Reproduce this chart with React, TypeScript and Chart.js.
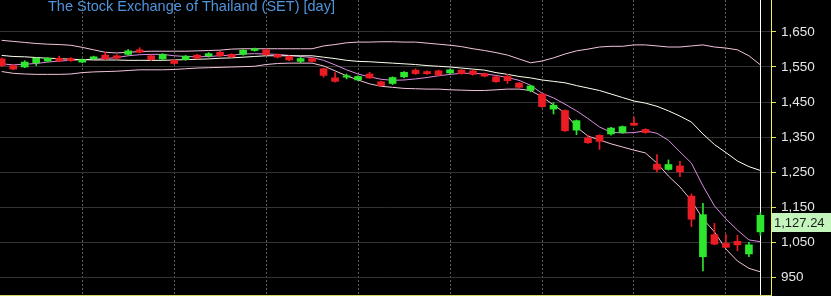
import { useEffect, useRef } from "react";
import { Chart, registerables } from "chart.js";

Chart.register(...registerables);

const titleText = "The Stock Exchange of Thailand (SET) [day]";
const lastPriceLabel = "1,127.24";

const opens = [1573,1554,1550,1562,1567,1575,1574,1564,1573,1584,1582,1586,1599,1582,1573,1569,1571,1584,1582,1592,1586,1586,1597,1599,1585,1580,1566,1574,1545,1519,1521,1513,1530,1508,1503,1522,1541,1537,1539,1533,1541,1539,1531,1522,1523,1504,1483,1473,1430,1426,1370,1348,1355,1359,1363,1390,1372,1273,1258,1268,1182,1009,1072,1047,1053,1017,1080];
const closes = [1554,1544,1564,1575,1575,1567,1568,1571,1579,1573,1575,1596,1592,1571,1586,1560,1581,1575,1588,1582,1579,1598,1602,1585,1578,1570,1574,1566,1526,1509,1525,1523,1519,1497,1520,1535,1531,1531,1527,1542,1531,1529,1524,1508,1511,1492,1496,1437,1441,1368,1397,1334,1338,1376,1380,1384,1363,1258,1272,1251,1116,1129,1045,1036,1043,1043,1127.24];
const highs = [1576,1557,1568,1576,1577,1581,1577,1573,1581,1592,1585,1600,1605,1584,1588,1571,1583,1586,1591,1595,1588,1600,1604,1602,1587,1582,1578,1576,1547,1534,1530,1525,1535,1510,1522,1537,1545,1539,1541,1544,1543,1541,1533,1524,1529,1506,1498,1475,1448,1428,1399,1355,1357,1378,1382,1407,1374,1300,1285,1281,1188,1161,1104,1072,1070,1050,1135];
const lows = [1551,1542,1548,1554,1565,1565,1566,1562,1571,1571,1573,1584,1590,1569,1570,1558,1569,1573,1578,1580,1577,1584,1595,1583,1576,1568,1562,1564,1521,1507,1516,1511,1517,1495,1500,1519,1529,1529,1525,1531,1529,1527,1522,1506,1503,1490,1479,1435,1416,1366,1357,1332,1315,1356,1361,1383,1361,1251,1256,1237,1095,969,1043,1034,1026,1009,1070];

const upperBand = [1626,1623,1620,1617,1615,1614,1612,1606,1599,1592,1590,1592,1594,1595,1595,1595,1595,1596,1597,1598,1601,1602,1602,1602,1602,1602,1602,1602,1610,1614,1619,1621,1621,1622,1622,1621,1621,1618,1615,1612,1608,1602,1597,1591,1584,1573,1562,1567,1576,1587,1596,1601,1607,1609,1609,1613,1613,1610,1607,1607,1610,1613,1607,1604,1599,1582,1556];
const middleBand = [1583,1580,1579,1577,1575,1574,1572,1571,1570,1570,1570,1569,1569,1569,1569,1570,1571,1572,1573,1575,1576,1578,1580,1582,1582,1582,1582,1582,1578,1574,1569,1566,1565,1563,1561,1559,1557,1554,1552,1550,1547,1544,1541,1534,1529,1523,1519,1513,1509,1505,1497,1490,1483,1473,1463,1453,1447,1438,1425,1410,1393,1359,1329,1306,1282,1266,1255];
const lowerBand = [1537,1532,1530,1529,1529,1529,1530,1534,1536,1537,1538,1540,1542,1542,1542,1543,1545,1547,1548,1549,1550,1551,1552,1557,1560,1561,1561,1561,1553,1539,1525,1513,1502,1495,1492,1489,1488,1487,1487,1485,1484,1483,1483,1485,1487,1487,1483,1465,1442,1419,1379,1353,1342,1331,1322,1313,1305,1276,1239,1208,1169,1117,1080,1031,997,976,966];
const shortMA = [1559,1556,1558,1560,1564,1567,1569,1571,1572,1574,1577,1582,1585,1586,1586,1582,1580,1579,1580,1582,1584,1587,1588,1587,1586,1583,1580,1577,1569,1556,1542,1530,1522,1515,1512,1513,1516,1520,1525,1529,1532,1532,1530,1526,1520,1512,1498,1475,1462,1444,1425,1403,1379,1364,1362,1363,1368,1361,1341,1308,1276,1211,1154,1117,1085,1057,1052];

const yTickValues = [950,1000,1050,1100,1150,1200,1250,1300,1350,1400,1450,1500,1550,1600,1650,1700];
const xGridIndices = [7,15,23,31,39,47,55,63];

const UP = "#2ee62e";
const DOWN = "#ec1c24";
const candleColor = (i: number) => (closes[i] >= opens[i] ? UP : DOWN);

const zeroPad = (s: any) => {
  s.paddingTop = 0;
  s.paddingBottom = 0;
  s.paddingLeft = 0;
  s.paddingRight = 0;
};

export default function App() {
  const ref = useRef<HTMLCanvasElement | null>(null);
  useEffect(() => {
    if (!ref.current) return;
    const lastIndex = closes.length - 1;
    const bgPlugin = {
      id: "bg",
      beforeDraw(chart: any) {
        const c = chart.ctx;
        c.save();
        c.fillStyle = "#000";
        c.fillRect(0, 0, chart.width, chart.height);
        c.restore();
      },
      beforeDatasetsDraw(chart: any) {
        const c = chart.ctx;
        const x = Math.round(chart.scales.x.getPixelForValue(lastIndex)) + 0.5;
        c.save();
        c.strokeStyle = "#ffffff";
        c.lineWidth = 1;
        c.beginPath();
        c.moveTo(x, chart.chartArea.top);
        c.lineTo(x, chart.chartArea.bottom);
        c.stroke();
        c.restore();
      },
      afterDraw(chart: any) {
        const c = chart.ctx;
        c.save();
        c.font = "14.5px 'Liberation Sans', Arial, sans-serif";
        c.fillStyle = "#4f95dc";
        c.textBaseline = "alphabetic";
        c.textAlign = "left";
        c.fillText(titleText, 48, 11);
        const py = chart.scales.y.getPixelForValue(closes[lastIndex]);
        const x0 = chart.chartArea.right + 1;
        c.fillStyle = "#c4f5bc";
        c.fillRect(x0, Math.round(py) - 2, chart.width - x0, 19);
        c.font = "13px 'Liberation Sans', Arial, sans-serif";
        c.fillStyle = "#1a1a1a";
        c.textBaseline = "middle";
        c.fillText(lastPriceLabel, x0 + 2, Math.round(py) + 8);
        c.restore();
      },
    };

    const line = (data: number[], color: string) => ({
      type: "line" as const,
      data: data.map((v, i) => ({ x: i, y: v })),
      borderColor: color,
      borderWidth: 1,
      pointRadius: 0,
      tension: 0,
      fill: false,
      order: 2,
    });

    const chart = new Chart(ref.current, {
      type: "bar",
      data: {
        datasets: [
          {
            type: "bar",
            data: opens.map((o, i) => ({ x: i, y: [o, closes[i]] })) as any,
            backgroundColor: (ctx: any) => candleColor(ctx.dataIndex),
            borderWidth: 0,
            barThickness: 7,
            grouped: false,
            order: 0,
          },
          {
            type: "bar",
            data: highs.map((h, i) => ({ x: i, y: [lows[i], h] })) as any,
            backgroundColor: (ctx: any) => candleColor(ctx.dataIndex),
            borderWidth: 0,
            barThickness: 1,
            grouped: false,
            order: 1,
          },
          line(upperBand, "#f2c4dc"),
          line(lowerBand, "#f2c4dc"),
          line(middleBand, "#fffff0"),
          line(shortMA, "#d88ee0"),
        ] as any,
      },
      options: {
        animation: false,
        responsive: false,
        events: [],
        layout: { padding: 0 },
        plugins: { legend: { display: false }, tooltip: { enabled: false }, title: { display: false } },
        scales: {
          x: {
            type: "linear",
            min: -0.148,
            max: 66.92,
            offset: false,
            afterBuildTicks: (s: any) => {
              s.ticks = xGridIndices.map((v) => ({ value: v }));
            },
            afterFit: (s: any) => {
              s.height = 1;
              zeroPad(s);
            },
            ticks: { display: false },
            grid: { color: "#5c5c5c", drawTicks: false, offset: false },
            border: { display: true, color: "#d8d86a", dash: [2, 2] },
          },
          y: {
            type: "linear",
            position: "right",
            min: 900,
            max: 1741,
            afterBuildTicks: (s: any) => {
              s.ticks = yTickValues.map((v) => ({ value: v }));
            },
            afterFit: (s: any) => {
              s.width = 60;
              zeroPad(s);
            },
            ticks: {
              color: "#e6e6e6",
              font: { family: "'Liberation Sans', Arial, sans-serif", size: 13.5 },
              padding: 5,
              callback: (v: any) => (Number(v) % 100 === 50 ? Number(v).toLocaleString("en-US") : ""),
            },
            grid: {
              color: (ctx: any) => (ctx.tick && ctx.tick.value % 100 === 50 ? "#333333" : "rgba(0,0,0,0)"),
              tickColor: "#e8e84a",
              tickLength: 5,
              drawTicks: true,
            },
            border: { display: true, color: "#f0f050" },
          },
        },
      } as any,
      plugins: [bgPlugin],
    });
    return () => chart.destroy();
  }, []);

  return (
    <div style={{ position: "fixed", left: 0, top: 0, width: 831, height: 296, background: "#000" }}>
      <canvas ref={ref} width={831} height={296} style={{ display: "block", width: 831, height: 296 }} />
    </div>
  );
}
